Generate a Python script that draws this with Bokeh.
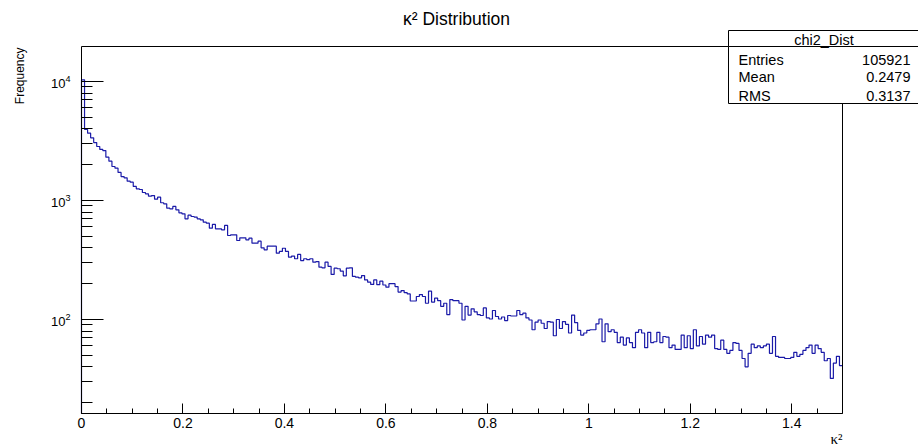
import numpy as np
from bokeh.plotting import figure
from bokeh.models import (FixedTicker, Label, BoxAnnotation, Range1d, LinearAxis,
                          LogAxis, LogScale)
from bokeh.embed import file_html
from bokeh.resources import INLINE

# ---------------- data ----------------
TITLE = "κ² Distribution"
X_LABEL = "κ²"
Y_LABEL = "Frequency"
HIST_NAME = "chi2_Dist"
X_MIN, X_MAX, N_BINS = 0.0, 1.5, 250

COUNTS = [
    10330, 3950, 3680, 3365, 3070, 2843, 2685, 2630, 2312, 2140,
    1930, 1870, 1720, 1590, 1550, 1453, 1425, 1312, 1254, 1237,
    1167, 1138, 1087, 1101, 1025, 1066, 957, 938, 862, 852,
    891, 835, 788, 773, 702, 753, 734, 725, 702, 688,
    657, 645, 585, 629, 578, 578, 567, 617, 508, 515,
    515, 461, 486, 486, 467, 482, 438, 438, 455, 400,
    385, 413, 413, 413, 361, 373, 397, 373, 334, 341,
    324, 352, 313, 324, 318, 324, 303, 307, 275, 272,
    303, 279, 239, 270, 267, 255, 233, 270, 272, 230,
    227, 224, 234, 215, 206, 197, 215, 196, 210, 195,
    187, 200, 200, 189, 170, 175, 168, 164, 143, 143,
    156, 162, 156, 137, 173, 140, 151, 144, 129, 137,
    110, 147, 144, 144, 137, 99, 129, 109, 123, 116,
    110, 108, 125, 103, 101, 119, 106, 101, 105, 98,
    108, 107, 107, 119, 110, 113, 103, 99, 82, 95,
    99, 93, 84, 96, 95, 73, 100, 84, 96, 91,
    77, 109, 94, 81, 74, 77, 81, 82, 82, 92,
    101, 65, 92, 79, 82, 78, 64, 71, 61, 70,
    64, 58, 78, 82, 77, 58, 78, 64, 65, 78,
    64, 72, 71, 58, 61, 56, 56, 74, 58, 73,
    57, 82, 60, 72, 62, 74, 71, 74, 57, 56,
    67, 56, 52, 55, 64, 63, 55, 47, 40, 52,
    62, 58, 60, 58, 60, 62, 52, 72, 49, 48,
    48, 47, 47, 48, 53, 49, 51, 55, 58, 61,
    52, 61, 57, 53, 45, 47, 32, 43, 49, 41,
]

STATS_LABELS = ["Entries", "Mean", "RMS"]
STATS_VALUES = ["105921", "0.2479", "0.3137"]

X_TICKS = [0.0, 0.2, 0.4, 0.6, 0.8, 1.0, 1.2, 1.4]
X_TICK_LABELS = ["0", "0.2", "0.4", "0.6", "0.8", "1", "1.2", "1.4"]
X_MINOR = [round(0.05 * i, 2) for i in range(31)]
Y_TICKS = [100, 1000, 10000]
Y_MINOR = [m * 10 ** e for e in (1, 2, 3) for m in range(2, 10)]
Y_MIN, Y_MAX = 16.23, 19683

FONT = "Liberation Sans"
LINE_COLOR = "#1a1aa8"

# ---------------- layout helpers (canvas pixel -> data) ----------------
W, H = 918, 446
FR_L, FR_R = 81.0, 842.0          # ROOT frame, canvas pixels
PX_PER_X = (FR_R - FR_L) / (X_MAX - X_MIN)
Y_REF_PX, Y_REF_LOG, PX_PER_DEC = 81.0, 4.0, 119.0


def X(px):
    return X_MIN + (px - FR_L) / PX_PER_X


def Y(py):
    return 10 ** (Y_REF_LOG - (py - Y_REF_PX) / PX_PER_DEC)


# ---------------- figure ----------------
p = figure(width=W, height=H, output_backend="svg", toolbar_location=None,
           x_axis_type=None, y_axis_type=None,
           x_range=Range1d(X(0), X(W)), y_range=Range1d(Y(H), Y(0)),
           min_border_left=0, min_border_right=0, min_border_top=0,
           min_border_bottom=0)
p.y_scale = LogScale()
p.background_fill_color = "white"
p.border_fill_color = "white"
p.outline_line_color = None
p.grid.visible = False

edges = np.linspace(X_MIN, X_MAX, N_BINS + 1)
xs = [edges[0]]
ys = [Y_MIN]
for i, c in enumerate(COUNTS):
    xs += [edges[i], edges[i + 1]]
    ys += [c, c]
p.line(xs, ys, line_color=LINE_COLOR, line_width=1.2)


def style_axis(ax, font_size):
    ax.major_tick_out = 0
    ax.minor_tick_out = 0
    ax.major_label_text_font = FONT
    ax.major_label_text_font_size = font_size
    ax.major_label_text_color = "black"
    ax.axis_line_color = "black"
    ax.axis_line_width = 1
    ax.major_tick_line_color = "black"
    ax.minor_tick_line_color = "black"


# x axis (bottom of the frame)
xa = LinearAxis(fixed_location=Y_MIN, bounds=(X_MIN, X_MAX))
xa.ticker = FixedTicker(ticks=X_TICKS, minor_ticks=X_MINOR)
xa.major_label_overrides = {t: l for t, l in zip(X_TICKS, X_TICK_LABELS)}
style_axis(xa, "14px")
xa.major_tick_in = 10
xa.minor_tick_in = 5
xa.major_label_standoff = 5
p.add_layout(xa, "below")

# y axis (left of the frame)
ya = LogAxis(fixed_location=X_MIN, bounds=(Y_MIN, Y_MAX))
ya.ticker = FixedTicker(ticks=Y_TICKS, minor_ticks=Y_MINOR)
style_axis(ya, "13px")
ya.major_tick_in = 22
ya.minor_tick_in = 11
ya.major_label_standoff = 11
p.add_layout(ya, "left")

# top and right edges of the frame (tick-less axes)
ta = LinearAxis(fixed_location=Y_MAX, bounds=(X_MIN, X_MAX),
                ticker=FixedTicker(ticks=[], minor_ticks=[]))
style_axis(ta, "1px")
ta.major_tick_in = 0
ta.minor_tick_in = 0
p.add_layout(ta, "above")
ra = LogAxis(fixed_location=X_MAX, bounds=(Y_MIN, Y_MAX),
             ticker=FixedTicker(ticks=[], minor_ticks=[]))
style_axis(ra, "1px")
ra.major_tick_in = 0
ra.minor_tick_in = 0
p.add_layout(ra, "right")

# title and axis titles
p.add_layout(Label(x=X(456), y=Y(18), text=TITLE,
                   text_align="center", text_baseline="middle",
                   text_font=FONT, text_font_size="17.5px", text_color="black"))
p.add_layout(Label(x=X(19), y=Y(47), text=Y_LABEL, angle=np.pi / 2,
                   text_align="right", text_baseline="middle",
                   text_font=FONT, text_font_size="12px", text_color="black"))
p.add_layout(Label(x=X_MAX, y=Y(438), text=X_LABEL,
                   text_align="right", text_baseline="middle",
                   text_font="Liberation Serif", text_font_size="15px",
                   text_color="black"))

# stats box
bx_l, bx_r = X(728), X(935)
p.add_layout(BoxAnnotation(left=bx_l, right=bx_r, bottom=Y(46), top=Y(30),
                           fill_color="white", fill_alpha=1.0,
                           line_color="black", line_width=1, line_alpha=1.0,
                           level="overlay"))
p.add_layout(BoxAnnotation(left=bx_l, right=bx_r, bottom=Y(103), top=Y(46),
                           fill_color="white", fill_alpha=1.0,
                           line_color="black", line_width=1, line_alpha=1.0,
                           level="overlay"))
p.add_layout(Label(x=X(823.5), y=Y(39), text=HIST_NAME, text_align="center",
                   text_baseline="middle", text_font=FONT, text_font_size="14.5px",
                   text_color="black", level="overlay"))
for k, (lab, val) in enumerate(zip(STATS_LABELS, STATS_VALUES)):
    yy = Y([59, 76, 95][k])
    p.add_layout(Label(x=X(738), y=yy, text=lab, text_align="left",
                       text_baseline="middle", text_font=FONT,
                       text_font_size="14.5px", text_color="black", level="overlay"))
    p.add_layout(Label(x=X(910), y=yy, text=val, text_align="right",
                       text_baseline="middle", text_font=FONT,
                       text_font_size="14.5px", text_color="black", level="overlay"))

open("out.html", "w").write(file_html(p, INLINE))
